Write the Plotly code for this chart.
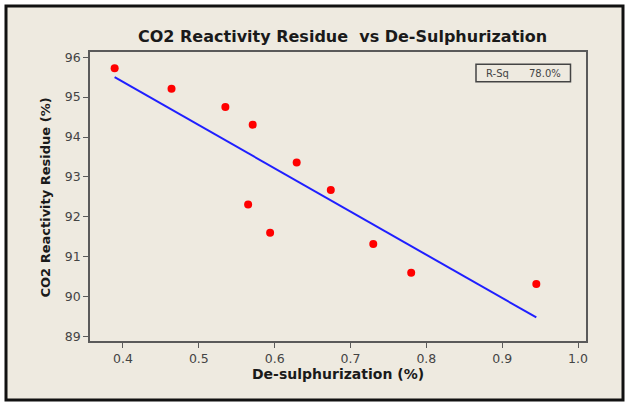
import plotly.graph_objects as go

# Data
desulph = [0.389, 0.464, 0.535, 0.571, 0.629, 0.565, 0.594, 0.674, 0.730, 0.780, 0.945]
residue = [95.72, 95.21, 94.75, 94.31, 93.36, 92.31, 91.60, 92.67, 91.32, 90.60, 90.32]
fit_x = [0.389, 0.945]
fit_y = [95.50, 89.48]
x_ticks = [0.4, 0.5, 0.6, 0.7, 0.8, 0.9, 1.0]
x_tick_labels = ["0.4", "0.5", "0.6", "0.7", "0.8", "0.9", "1.0"]
y_ticks = [89, 90, 91, 92, 93, 94, 95, 96]
r_sq_label = "78.0%"

W, H = 626, 403
L, R, T, B = 90, 586, 52, 341

def px(v):
    return (v - L) / (R - L)

def py(v):
    return (B - v) / (B - T)

fig = go.Figure()
fig.add_trace(go.Scatter(x=fit_x, y=fit_y, mode="lines",
                         line=dict(color="#1f1fff", width=2), hoverinfo="skip"))
fig.add_trace(go.Scatter(x=desulph, y=residue, mode="markers",
                         marker=dict(color="#ff0000", size=8)))

font_fam = "DejaVu Sans"
fig.update_layout(
    width=W, height=H,
    margin=dict(l=L, r=W - R, t=T, b=H - B),
    paper_bgcolor="white",
    plot_bgcolor="white",
    showlegend=False,
    font=dict(family=font_fam, color="#3a3a3a"),
    xaxis=dict(range=[0.3565, 1.0105], tickvals=x_ticks, ticktext=x_tick_labels,
               showgrid=False, zeroline=False, showline=True, mirror=True,
               linecolor="#5a5a5a", linewidth=1.5, ticks="outside", ticklen=5,
               tickcolor="#5a5a5a", tickfont=dict(size=12.5, color="#444")),
    yaxis=dict(range=[88.89, 96.13], tickvals=y_ticks,
               showgrid=False, zeroline=False, showline=True, mirror=True,
               linecolor="#5a5a5a", linewidth=1.5, ticks="outside", ticklen=5,
               tickcolor="#5a5a5a", tickfont=dict(size=12.5, color="#444")),
    shapes=[
        dict(type="rect", xref="paper", yref="paper", layer="below",
             x0=px(6), x1=px(623), y0=py(400), y1=py(6),
             fillcolor="#eeeae0", line=dict(color="#111", width=3)),
        dict(type="rect", xref="paper", yref="paper", layer="above",
             x0=px(476), x1=px(570.5), y0=py(81.7), y1=py(64.3),
             fillcolor="rgba(0,0,0,0)", line=dict(color="#444", width=1.5)),
    ],
    annotations=[
        dict(text="<b>CO2 Reactivity Residue&nbsp; vs De-Sulphurization</b>",
             xref="paper", yref="paper", x=px(342), y=py(36), showarrow=False,
             xanchor="center", yanchor="middle",
             font=dict(size=16, color="#1a1a1a", family=font_fam)),
        dict(text="<b>De-sulphurization (%)</b>", xref="paper", yref="paper",
             x=px(338), y=py(373.5), showarrow=False, xanchor="center", yanchor="middle",
             font=dict(size=14, color="#1a1a1a", family=font_fam)),
        dict(text="<b>CO2 Reactivity Residue (%)</b>", xref="paper", yref="paper",
             x=px(45), y=py(197.5), showarrow=False, xanchor="center", yanchor="middle",
             textangle=-90, font=dict(size=13, color="#1a1a1a", family=font_fam)),
        dict(text="R-Sq", xref="paper", yref="paper", x=px(484), y=py(73),
             showarrow=False, xanchor="left", yanchor="middle",
             font=dict(size=10, color="#444", family=font_fam)),
        dict(text=r_sq_label, xref="paper", yref="paper", x=px(563), y=py(73),
             showarrow=False, xanchor="right", yanchor="middle",
             font=dict(size=10, color="#444", family=font_fam)),
    ],
)

fig.write_html("out.html", config={"displayModeBar": False},
               post_script="document.body.style.margin='0';document.body.style.overflow='hidden';")
